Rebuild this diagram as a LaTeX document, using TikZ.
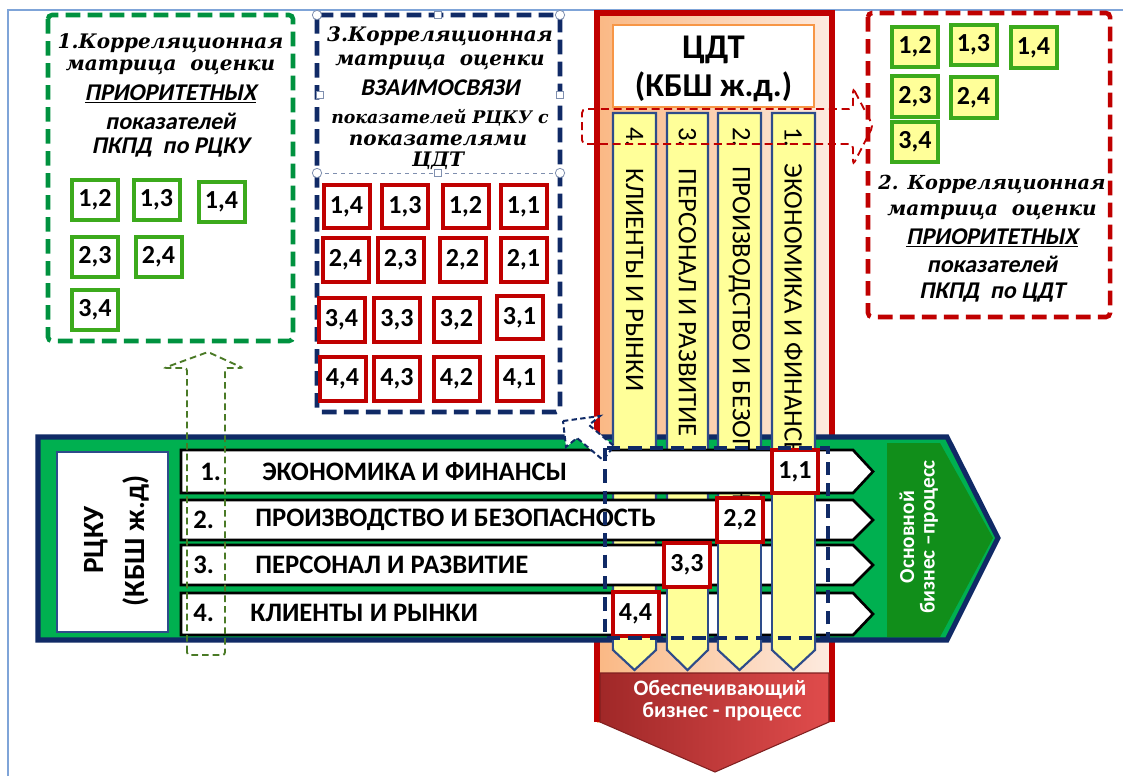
\documentclass[tikz,border=0pt]{standalone}
\usepackage{fontspec}
\setmainfont{Carlito}
\newfontfamily\serifbi{DejaVu Serif}
\newfontfamily\calslant{Carlito}[FakeSlant=0.2]
\definecolor{navy}{HTML}{102A66}
\definecolor{rred}{HTML}{C00000}
\definecolor{dgreen}{HTML}{00923F}
\definecolor{lgreen}{HTML}{3CAA1C}
\definecolor{bandgreen}{HTML}{00B050}
\definecolor{dkgreen}{HTML}{118E1A}
\definecolor{yell}{HTML}{FFFF99}
\definecolor{colborder}{HTML}{2E4C8A}
\definecolor{peachL}{HTML}{FAB884}
\definecolor{peachR}{HTML}{FDEBE0}
\definecolor{frameblue}{HTML}{7FA4D8}
\definecolor{olive}{HTML}{4A7A26}
\definecolor{redL}{HTML}{A02828}
\definecolor{redR}{HTML}{E04C4C}
\definecolor{orangeb}{HTML}{F79646}
\definecolor{handle}{HTML}{7F8FAF}
\tikzset{
  numbox/.style={line width=3pt, inner sep=0pt, minimum width=34.5pt, minimum height=30.5pt,
    font=\bfseries\fontsize{19.5}{20}\selectfont},
  gbox/.style={numbox, draw=lgreen, fill=white},
  ybox/.style={numbox, draw=lgreen, fill=yell},
  rbox/.style={numbox, draw=rred, fill=white, minimum height=32.5pt},
  ttl/.style={inner sep=0pt, font=\serifbi\bfseries\itshape\fontsize{15}{16}\selectfont},
  sbi/.style={inner sep=0pt, font=\calslant\bfseries\fontsize{18}{19}\selectfont},
  rowtxt/.style={inner sep=0pt, anchor=west, font=\bfseries\fontsize{20}{22}\selectfont},
  coltxt/.style={inner sep=0pt, anchor=west, rotate=-90, font=\fontsize{20}{22}\selectfont},
  rowshape/.style={fill=white, draw=black, line width=2pt, line join=miter},
  colshape/.style={fill=yell, draw=colborder, line width=1.6pt},
  bigdash/.style={line width=3.4pt, dash pattern=on 11pt off 5.5pt, rounded corners=3pt},
  handlec/.style={circle, draw=handle, fill=white, line width=0.6pt, minimum size=7pt, inner sep=0pt},
  handles/.style={rectangle, draw=handle, fill=white, line width=0.6pt, minimum size=5pt, inner sep=0pt},
  whitetxt/.style={inner sep=0pt, text=white, font=\bfseries\fontsize{16.5}{17}\selectfont},
}
\newcommand\rowarrow[2]{\draw[rowshape] (181,#1) -- (853,#1) -- (873,{(#1+#2)/2}) -- (853,#2) -- (181,#2) -- cycle;}
\newcommand\colarrow[2]{\draw[colshape] (#1,113) -- (#2,113) -- (#2,650) -- ({(#1+#2)/2},670) -- (#1,650) -- cycle;}
\newcommand\colover[3]{\fill[yell] (#1,#3) rectangle (#2,648);
  \draw[colborder, line width=1.6pt] (#1,#3) -- (#1,650) (#2,#3) -- (#2,650);}
\begin{document}
\begin{tikzpicture}[x=0.75pt,y=-0.75pt]
\useasboundingbox (0,0) rectangle (1123,776);
\fill[white] (0,0) rectangle (1123,776);
\draw[frameblue, line width=1.5pt] (8,776) -- (8,10) -- (1123,10);

% CDT column frame
\shade[left color=peachL, right color=peachR] (597,13) rectangle (832,722);
\draw[rred, line width=4.5pt] (597,722) -- (597,13) -- (832,13) -- (832,722);
\node[draw=orangeb, line width=2pt, fill=white, minimum width=150.75pt, minimum height=61.5pt, inner sep=0pt] (cdtbox) at (713.5,66) {};
\node[inner sep=0pt, font=\bfseries\fontsize{26}{27}\selectfont] (cdt1) at (713.5,50) {ЦДТ};
\node[inner sep=0pt, font=\bfseries\fontsize{25}{26}\selectfont] (cdt2) at (713.5,87) {(КБШ ж.д.)};

% bottom red arrow
\shadedraw[left color=redL, right color=redR, draw=redL!80!black, line width=0.8pt] (600,673) -- (829,673) -- (829,722) -- (715,772) -- (600,722) -- cycle;
\node[whitetxt] (ob1) at (720,690) {Обеспечивающий};
\node[whitetxt] (ob2) at (722,712) {бизнес - процесс};

% main band
\draw[fill=bandgreen, draw=navy, line width=3.8pt, line join=miter] (38,437) -- (947,437) -- (998,538) -- (947,640) -- (38,640) -- cycle;
\fill[dkgreen] (887,443) -- (940,443) -- (993,538) -- (940,637) -- (887,637) -- cycle;
\node[whitetxt, rotate=90, font=\bfseries\fontsize{16}{17}\selectfont] (osn1) at (907,537) {Основной};
\node[whitetxt, rotate=90, font=\bfseries\fontsize{16}{17}\selectfont] (osn2) at (929,537) {бизнес –процесс};

\node[draw=colborder, line width=1.5pt, fill=white, minimum width=83.25pt, minimum height=135pt, inner sep=0pt] (rcku) at (112.5,542) {};
\node[inner sep=0pt, rotate=90, font=\bfseries\fontsize{22}{23}\selectfont] (rcku1) at (96,540) {РЦКУ};
\node[inner sep=0pt, rotate=90, font=\bfseries\fontsize{22}{23}\selectfont] (rcku2) at (136,541) {(КБШ ж.д)};

% columns
\colarrow{613}{656}
\colarrow{667}{708}
\colarrow{718}{761}
\colarrow{772}{815}
\node[coltxt] (c4) at (634.5,127) {4.\hspace{0.8em}КЛИЕНТЫ И РЫНКИ};
\node[coltxt] (c3) at (687.5,127) {3.\hspace{0.8em}ПЕРСОНАЛ И РАЗВИТИЕ};
\node[coltxt] (c2) at (739.5,127) {2.\hspace{0.7em}ПРОИЗВОДСТВО И БЕЗОПАСНОСТЬ};
\node[coltxt] (c1) at (793.5,127) {1.\hspace{0.6em}ЭКОНОМИКА И ФИНАНСЫ};

% rows
\rowarrow{450}{493}
\rowarrow{500}{540}
\rowarrow{545}{585}
\rowarrow{593}{635}
\node[rowtxt] (r1n) at (200,472) {1.};
\node[rowtxt] (r1) at (262,472) {ЭКОНОМИКА И ФИНАНСЫ};
\node[rowtxt] (r2n) at (193,520) {2.};
\node[rowtxt] (r2) at (255,520) {ПРОИЗВОДСТВО И БЕЗОПАСНОСТЬ};
\node[rowtxt] (r3n) at (193,565) {3.};
\node[rowtxt] (r3) at (255,565) {ПЕРСОНАЛ И РАЗВИТИЕ};
\node[rowtxt] (r4n) at (193,613) {4.};
\node[rowtxt] (r4) at (250,613) {КЛИЕНТЫ И РЫНКИ};

% staircase: columns over rows
\colover{772}{815}{452}
\colover{718}{761}{500}
\colover{667}{708}{545}
\colover{613}{656}{593}

\node[rbox] (d11) at (795,471.5) {1,1};
\node[rbox] (d22) at (740,520) {2,2};
\node[rbox] (d33) at (687,565) {3,3};
\node[rbox] (d44) at (635.5,614) {4,4};

% navy dashed frame and arrow
\draw[navy, fill=white, line width=1.5pt, dash pattern=on 4pt off 2.5pt, line join=miter] (563,421) -- (600,416) -- (589,425) -- (614,446) -- (603,460) -- (577,438) -- (566,447) -- cycle;
\draw[navy, line width=3.4pt, dash pattern=on 10pt off 6pt] (605,448) rectangle (828,638);

% green dashed up arrow
\draw[olive, line width=1.4pt, dash pattern=on 5pt off 3pt, rounded corners=2pt] (187,655) -- (187,368) -- (164,368) -- (208,352) -- (243,368) -- (225,368) -- (225,655) -- cycle;

% red dashed right arrow
\draw[rred, line width=1.4pt, dash pattern=on 6pt off 3.5pt, rounded corners=3pt] (853,88) -- (873,126) -- (853,165) -- (853,144) -- (582,144) -- (582,109) -- (853,109) -- cycle;

% box 1
\draw[dgreen, bigdash] (48,15) rectangle (293,341);
\node[ttl] (t1a) at (170.5,43) {1.Корреляционная};
\node[ttl] (t1b) at (170.5,67) {матрица\ \ оценки};
\node[sbi] (t1c) at (170.5,94) {\underline{ПРИОРИТЕТНЫХ}};
\node[sbi] (t1d) at (170.5,121) {показателей};
\node[sbi] (t1e) at (170.5,148) {ПКПД\ \ по РЦКУ};
\node[gbox] (g12) at (95,200) {1,2};
\node[gbox] (g13) at (156.5,200) {1,3};
\node[gbox] (g14) at (221.5,202) {1,4};
\node[gbox] (g23) at (95,257) {2,3};
\node[gbox] (g24) at (158.5,257) {2,4};
\node[gbox] (g34) at (95,310) {3,4};

% box 3
\draw[navy, bigdash] (317,15) rectangle (560,412);
\draw[handle, line width=0.6pt, dashed] (317,173) -- (560,173);
\node[ttl] (t3a) at (440,36) {3.Корреляционная};
\node[ttl] (t3b) at (440,62) {матрица\ \ оценки};
\node[sbi] (t3c) at (440,88) {ВЗАИМОСВЯЗИ};
\node[ttl, font=\serifbi\bfseries\itshape\fontsize{13}{14}\selectfont] (t3d) at (440,118) {показателей РЦКУ с};
\node[ttl] (t3e) at (438,140) {показателями};
\node[ttl] (t3f) at (438,161) {ЦДТ};
\node[rbox] (m14) at (346.5,206.5) {1,4};
\node[rbox] (m13) at (405,206.5) {1,3};
\node[rbox] (m12) at (465.5,206.5) {1,2};
\node[rbox] (m11) at (523.5,206.5) {1,1};
\node[rbox] (m24) at (345.5,260) {2,4};
\node[rbox] (m23) at (400.5,260) {2,3};
\node[rbox] (m22) at (462.5,260) {2,2};
\node[rbox] (m21) at (523.5,260) {2,1};
\node[rbox] (m34) at (341.5,320) {3,4};
\node[rbox] (m33) at (397,320) {3,3};
\node[rbox] (m32) at (456.5,320) {3,2};
\node[rbox] (m31) at (519.5,317.5) {3,1};
\node[rbox] (m44) at (342.5,379) {4,4};
\node[rbox] (m43) at (397,379) {4,3};
\node[rbox] (m42) at (456.5,379) {4,2};
\node[rbox] (m41) at (519.5,379) {4,1};
\node[handlec] (h1) at (317,15) {};
\node[handlec] (h2) at (560,15) {};
\node[handlec] (h3) at (317,173) {};
\node[handlec] (h4) at (560,173) {};
\node[handles] (h5) at (438,15) {};
\node[handles] (h6) at (320,95) {};
\node[handles] (h7) at (560,95) {};
\node[handles] (h8) at (438,173) {};

% box 2
\draw[rred, bigdash] (868,13) rectangle (1110,317);
\node[ybox] (y12) at (915,47) {1,2};
\node[ybox] (y13) at (973.5,45) {1,3};
\node[ybox] (y14) at (1033.5,47.5) {1,4};
\node[ybox] (y23) at (915,96.5) {2,3};
\node[ybox] (y24) at (973.5,97.5) {2,4};
\node[ybox] (y34) at (915,142) {3,4};
\node[ttl, font=\serifbi\bfseries\itshape\fontsize{14.5}{15}\selectfont] (t2a) at (992,184) {2. Корреляционная};
\node[ttl] (t2b) at (992,212) {матрица\ \ оценки};
\node[sbi] (t2c) at (992,238) {\underline{ПРИОРИТЕТНЫХ}};
\node[sbi] (t2d) at (992,264) {показателей};
\node[sbi] (t2e) at (992,293) {ПКПД\ \ по ЦДТ};
\end{tikzpicture}
\end{document}
